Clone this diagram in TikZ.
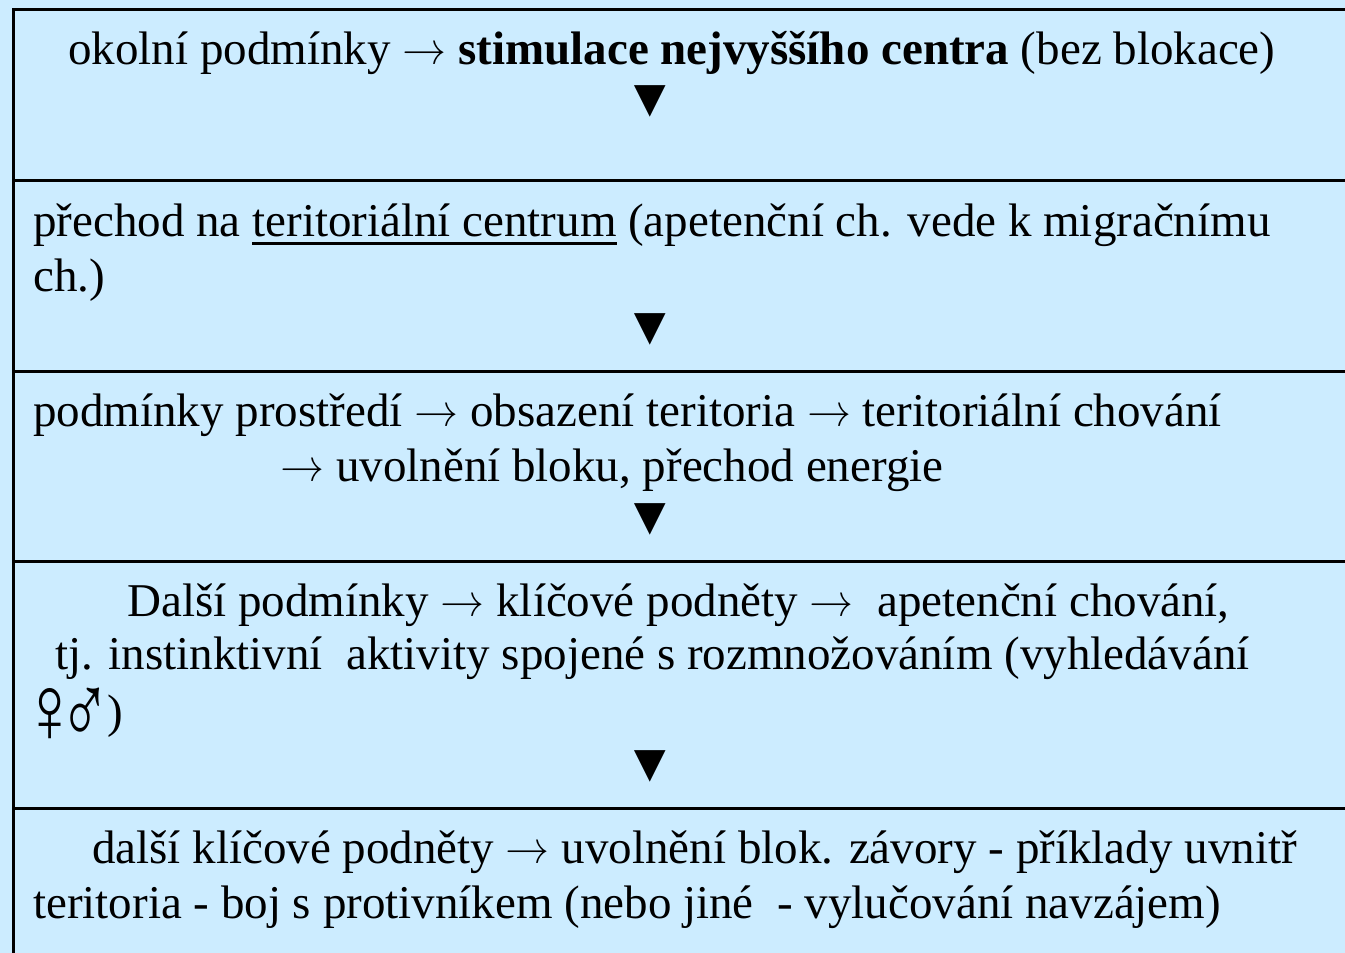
\documentclass[tikz,border=0pt]{standalone}
\usepackage{fontspec}
\newfontfamily\tnr{Liberation Serif}
\newcommand\myul[1]{\setbox0\hbox{#1}\rlap{\rule[-9pt]{\wd0}{3pt}}\box0\relax}
\newcommand\arr{{\rmfamily →}}
\definecolor{bgblue}{RGB}{204,236,255}
\begin{document}
\begin{tikzpicture}[x=1pt,y=-1pt,
  txt/.style={anchor=base west,inner sep=0pt,font=\tnr\fontsize{47}{55}\selectfont},
  tri/.style={anchor=center,inner sep=0pt,font=\tnr\fontsize{54}{54}\selectfont},
  stage/.style={draw=black,line width=3pt,fill=bgblue,inner sep=0pt}]
\useasboundingbox (0,0) rectangle (1345,953);
\fill[bgblue] (0,0) rectangle (1345,953);
\clip (0,0) rectangle (1345,953);
\node[stage,minimum width=1360pt,minimum height=171pt,anchor=north west] (b1) at (12,8) {};
\node[stage,minimum width=1360pt,minimum height=191pt,anchor=north west] (b2) at (12,179) {};
\node[stage,minimum width=1360pt,minimum height=190pt,anchor=north west] (b3) at (12,370) {};
\node[stage,minimum width=1360pt,minimum height=247pt,anchor=north west] (b4) at (12,560) {};
\node[stage,minimum width=1360pt,minimum height=160pt,anchor=north west] (b5) at (12,807) {};
% box 1
\node[txt] (t1) at (68,64) {okolní podmínky \arr{} \textbf{stimulace nejvyššího centra} (bez blokace)};
\node[tri] (a1) at (650,101) {▼};
% box 2
\node[txt] (t2a) at (33,236) {přechod na \myul{teritoriální centrum} (apetenční ch. vede k migračnímu};
\node[txt] (t2b) at (33,291) {ch.)};
\node[tri] (a2) at (650,329) {▼};
% box 3
\node[txt] (t3a) at (33,426) {podmínky prostředí \arr{} obsazení teritoria \arr{} teritoriální chování};
\node[txt] (t3b) at (280,481) {\arr{} uvolnění bloku, přechod energie};
\node[tri] (a3) at (650,519) {▼};
% box 4
\node[txt] (t4a) at (127,616) {Další podmínky \arr{} klíčové podněty \arr{} \ apetenční chování,};
\node[txt] (t4b) at (55,669) {tj. instinktivní \ aktivity spojené s rozmnožováním (vyhledávání};
\node[txt] (t4c) at (21,727) {{\fontsize{64}{64}\selectfont\raisebox{-15pt}{\scalebox{1.19}[1.5]{♀}}\kern-19pt\raisebox{-17pt}{\scalebox{1.07}[1.57]{♂}}}\kern-3pt)};
\node[tri] (a4) at (650,766) {▼};
% box 5
\node[txt] (t5a) at (92,863) {další klíčové podněty \arr{} uvolnění blok. závory - příklady uvnitř};
\node[txt] (t5b) at (33,918) {teritoria - boj s protivníkem (nebo jiné \ - vylučování navzájem)};
\end{tikzpicture}
\end{document}
